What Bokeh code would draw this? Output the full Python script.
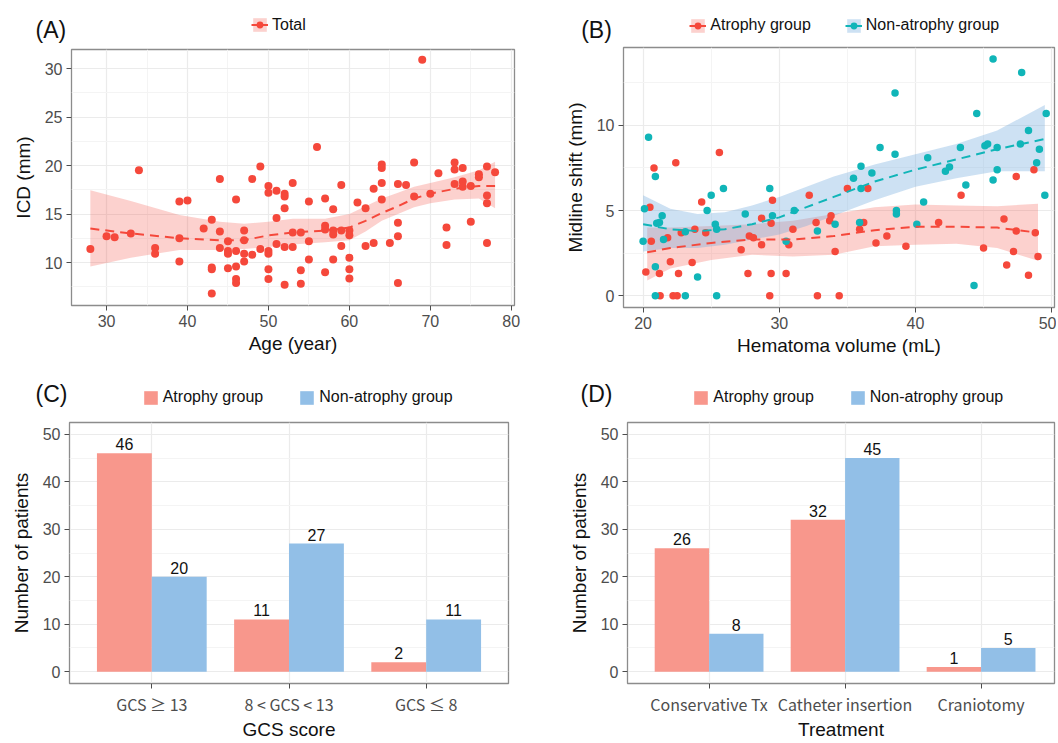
from bokeh.plotting import figure
from bokeh.layouts import row, column
from bokeh.models import (Legend, LegendItem, Label, FixedTicker, ColumnDataSource, Range1d)
from bokeh.embed import file_html
from bokeh.resources import INLINE
from bokeh.core.properties import value

# ---------------- data ----------------
# (A) Age vs ICD
age = [28, 30, 31, 33, 34, 36, 36, 39, 39, 39, 40, 42, 43, 43, 43, 43, 44, 44, 44, 45, 45, 45, 45,
       46, 46, 46, 46, 46, 47, 47, 47, 47, 48, 48, 49, 49, 50, 50, 50, 50, 50, 50, 51, 51, 51,
       52, 52, 52, 52, 52, 53, 53, 53, 54, 54, 54, 55, 55, 55, 56, 57, 57, 57, 57, 58, 58, 58, 58,
       59, 59, 59, 60, 60, 60, 60, 60, 61, 62, 62, 63, 63, 64, 64, 64, 64, 65, 66, 66, 66, 66, 67,
       68, 68, 69, 70, 71, 72, 72, 73, 73, 73, 74, 74, 74, 75, 75, 76, 76, 77, 77, 77, 77, 78]
icd = [11.4, 12.7, 12.6, 13.0, 19.5, 11.5, 10.9, 16.3, 12.5, 10.1, 16.4, 13.5, 14.4, 9.5, 9.3, 6.8,
       18.6, 13.2, 11.5, 12.2, 11.2, 10.9, 9.4, 16.5, 11.2, 9.6, 8.3, 7.9, 13.3, 12.3, 10.9, 10.1,
       18.6, 10.8, 19.9, 11.4, 17.9, 17.2, 11.2, 10.9, 9.3, 8.3, 17.4, 14.6, 11.9, 17.1, 16.8, 15.6,
       11.6, 7.7, 18.2, 13.1, 11.6, 13.1, 9.2, 7.8, 16.3, 12.2, 10.3, 21.9, 16.6, 13.8, 13.4, 9.0,
       15.5, 13.3, 12.9, 10.3, 18.0, 13.3, 11.7, 13.3, 12.8, 10.5, 9.3, 8.35, 16.2, 15.6, 11.7,
       17.6, 12.0, 20.1, 19.75, 18.2, 16.5, 12.0, 18.1, 14.1, 12.7, 7.9, 18.0, 20.3, 16.8, 30.9,
       17.1, 19.2, 13.6, 11.8, 20.3, 19.6, 18.1, 19.75, 18.35, 17.8, 17.9, 14.2, 19.1, 18.8, 19.9,
       16.9, 16.1, 12.0, 19.3]
smoothA_x = [28, 33, 39, 44, 47, 50, 53, 57, 60, 62, 64, 66, 68, 70, 73, 76, 78]
smoothA_y = [13.5, 13.0, 12.5, 12.3, 12.3, 12.8, 13.1, 13.3, 13.6, 14.3, 15.1, 15.8, 16.6, 17.1, 17.6, 17.9, 17.9]
smoothA_hi = [17.45, 16.35, 14.9, 14.2, 14.0, 14.2, 14.5, 14.5, 15.0, 15.8, 16.6, 17.2, 17.8, 18.2, 18.8, 19.5, 20.4]
smoothA_lo = [9.6, 10.5, 11.3, 11.3, 11.4, 11.6, 11.85, 12.1, 12.3, 13.2, 14.3, 15.0, 15.7, 16.1, 16.5, 16.6, 15.6]

# (B) Hematoma volume vs midline shift
atr_vol = [20.5, 20.8, 22.4, 25.6, 24.3, 29.5, 32.2, 28.7, 33.8, 20.6, 20.2, 21.2, 21.8, 22.0, 22.6,
           21.25, 22.2, 22.5, 22.8, 23.6, 23.8, 24.6, 27.2, 27.8, 28.1, 27.7, 28.7, 29.4, 29.4, 29.3,
           30.7, 30.5, 31.0, 32.7, 32.8, 33.7, 35.0, 36.5, 47.4, 48.7, 43.35, 36.2, 35.9, 41.7, 46.5,
           47.4, 48.8, 37.1, 37.9, 39.3, 34.1, 45.0, 47.2, 46.7, 49.0, 48.3, 34.4]
atr_shift = [5.2, 7.5, 7.8, 8.4, 5.5, 5.6, 5.9, 4.55, 4.7, 3.2, 1.4, 1.3, 3.4, 2.0, 1.3,
             0, 0, 0, 3.7, 1.95, 3.9, 3.7, 2.7, 3.5, 3.4, 1.3, 3.0, 4.25, 1.3, 0,
             3.0, 1.3, 3.9, 4.3, 0, 4.4, 6.3, 6.3, 7.0, 7.4, 5.9, 4.3, 3.9, 4.3, 4.5,
             3.8, 3.7, 3.1, 3.5, 2.9, 2.6, 2.8, 2.6, 1.8, 2.3, 1.2, 0]
non_vol = [20.4, 20.9, 20.1, 21.4, 24.7, 25.0, 25.9, 27.5, 29.3, 29.5, 31.1, 20.0, 20.9, 21.0, 21.2,
           21.5, 20.9, 23.1, 23.1, 24.0, 25.3, 25.4, 25.4, 30.5, 32.8, 45.7, 47.8, 38.5, 44.5, 49.6,
           48.3, 37.4, 38.5, 40.9, 43.3, 45.1, 45.3, 46.0, 47.7, 49.1, 48.9, 36.0, 35.45, 36.8, 36.0,
           42.2, 42.5, 43.7, 46.0, 45.7, 49.5, 40.6, 38.6, 38.6, 34.1, 35.9, 40.1, 44.3]
non_shift = [9.3, 7.0, 5.1, 4.7, 5.0, 5.9, 6.3, 4.8, 6.3, 4.7, 5.0, 3.2, 1.7, 4.25, 4.3,
             3.3, 0, 0, 3.75, 1.1, 4.2, 3.9, 0, 3.2, 3.8, 13.9, 13.1, 11.9, 10.7, 10.7,
             9.7, 8.7, 8.3, 8.1, 8.7, 8.8, 8.9, 8.7, 8.9, 8.6, 7.8, 7.6, 6.9, 7.2, 6.3,
             7.3, 7.55, 6.5, 7.4, 6.8, 5.9, 5.5, 5.0, 4.8, 4.2, 4.3, 4.2, 0.6]
smoothAtr_x = [20.3, 22, 25, 28, 31, 34, 37, 40, 43, 46, 49]
smoothAtr_y = [2.55, 2.8, 3.1, 3.3, 3.3, 3.5, 3.85, 4.05, 4.05, 4.0, 3.7]
smoothAtr_hi = [4.0, 4.0, 4.1, 4.2, 4.4, 4.8, 5.2, 5.35, 5.3, 5.25, 5.4]
smoothAtr_lo = [0.9, 1.6, 2.1, 2.4, 2.3, 2.4, 2.9, 3.0, 3.05, 2.8, 2.05]
smoothNon_x = [20.0, 22, 24, 26, 28, 30, 32, 34, 37, 40, 43, 46, 49.5]
smoothNon_y = [4.2, 3.9, 3.8, 3.9, 4.2, 4.6, 5.2, 5.8, 6.7, 7.4, 8.0, 8.6, 9.2]
smoothNon_hi = [5.9, 5.1, 4.8, 4.9, 5.3, 5.8, 6.4, 7.0, 7.7, 8.3, 8.9, 9.7, 11.2]
smoothNon_lo = [2.6, 2.8, 2.8, 3.0, 3.3, 3.6, 4.1, 4.7, 5.6, 6.4, 6.9, 7.3, 7.3]

# (C) GCS score
gcs_cats = ["GCS \u2265 13", "8 < GCS < 13", "GCS \u2264 8"]
gcs_atrophy = [46, 11, 2]
gcs_non = [20, 27, 11]

# (D) Treatment
tx_cats = ["Conservative Tx", "Catheter insertion", "Craniotomy"]
tx_atrophy = [26, 32, 1]
tx_non = [8, 45, 5]

# ---------------- style ----------------
RED = "#F5483B"
TEAL = "#10B5B8"
BAND_RED = "#F5483B"
BAND_BLUE = "#6FA8DC"
BAR_PINK = "#F8978C"
BAR_BLUE = "#92BFE7"
FONT = "Liberation Sans"
CAT_FONT = "Noto Sans CJK KR"
DASH = "9 6"


def no_align(p):
    if "frame_align" in p.properties():
        p.frame_align = False
    return p


def base_fig(w, h, xr, yr, left, right, top, bottom, xlabel, ylabel):
    p = figure(width=w, height=h, x_range=Range1d(*xr), y_range=Range1d(*yr),
               output_backend="svg", toolbar_location=None,
               min_border_left=left, min_border_right=right,
               min_border_top=top, min_border_bottom=bottom)
    no_align(p)
    p.background_fill_color = "white"
    p.border_fill_color = "white"
    p.outline_line_color = "#8C8C8C"
    p.outline_line_width = 1.3
    p.xaxis.axis_label = xlabel
    p.yaxis.axis_label = ylabel
    for ax in p.axis:
        ax.axis_line_color = None
        ax.major_tick_line_color = "#4D4D4D"
        ax.major_tick_out = 5
        ax.major_tick_in = 0
        ax.minor_tick_line_color = None
        ax.major_label_text_font = FONT
        ax.major_label_text_font_size = "16px"
        ax.major_label_text_color = "#4D4D4D"
        ax.major_label_standoff = 4
        ax.axis_label_text_font = FONT
        ax.axis_label_text_font_size = "19px"
        ax.axis_label_text_font_style = "normal"
        ax.axis_label_text_color = "#111111"
        ax.axis_label_standoff = 8
    p.xaxis.axis_label_standoff = 3
    for g in p.grid:
        g.grid_line_color = "#EBEBEB"
        g.grid_line_width = 1.2
        g.minor_grid_line_color = "#F4F4F4"
        g.minor_grid_line_width = 1
    return p


def header_fig(w, h, tag, tag_x, tag_y):
    # ranges far from the data so the legend proxy glyphs stay off-canvas
    hf = figure(width=w, height=h, x_range=Range1d(-1000, -999), y_range=Range1d(-1000, -999),
                output_backend="svg", toolbar_location=None, min_border=0,
                x_axis_location=None, y_axis_location=None)
    no_align(hf)
    hf.outline_line_color = None
    hf.xgrid.visible = False
    hf.ygrid.visible = False
    hf.background_fill_color = "white"
    hf.border_fill_color = "white"
    hf.add_layout(Label(x=tag_x, y=tag_y, x_units="screen", y_units="screen", text=tag,
                        text_font=FONT, text_font_size="23px", text_color="#111111",
                        text_baseline="top", text_align="left"))
    return hf


def make_legend(items, x, y, spacing):
    return Legend(items=items, orientation="horizontal", location=(x, y),
                  glyph_width=17, glyph_height=17, label_height=17, label_standoff=4,
                  spacing=spacing, padding=0, margin=0, border_line_color=None,
                  background_fill_alpha=0, label_text_font=FONT, label_text_font_size="16px",
                  label_text_color="#111111")


def smooth_key(hf, xs, ys, lo, hi, color, band_color, band_alpha):
    band = hf.varea(x=xs, y1=lo, y2=hi, fill_color=band_color, fill_alpha=band_alpha)
    ln = hf.line(x=xs, y=ys, line_color=color, line_width=2)
    pt = hf.scatter(x=xs, y=ys, size=8, fill_color=color, line_color=None)
    return [band, ln, pt]


# ---------------- (A) ----------------
hA = header_fig(545, 47, "(A)", 35, 30.5)
hA.add_layout(make_legend([LegendItem(label="Total", renderers=smooth_key(
    hA, smoothA_x, smoothA_y, smoothA_lo, smoothA_hi, RED, BAND_RED, 0.25))], 251, 13.3, 34))
pA = base_fig(545, 333, (25.67, 80.4), (5.57, 31.96), 71, 31, 2, 75, "Age (year)", "ICD (mm)")
pA.xaxis.ticker = FixedTicker(ticks=[30, 40, 50, 60, 70, 80], minor_ticks=[35, 45, 55, 65, 75])
pA.yaxis.ticker = FixedTicker(ticks=[10, 15, 20, 25, 30], minor_ticks=[7.5, 12.5, 17.5, 22.5, 27.5])
pA.varea(x=smoothA_x, y1=smoothA_lo, y2=smoothA_hi, fill_color=BAND_RED, fill_alpha=0.25)
pA.scatter(age, icd, size=8, fill_color=RED, line_color=None)
pA.line(smoothA_x, smoothA_y, line_color=RED, line_width=2, line_dash=DASH)

# ---------------- (B) ----------------
hB = header_fig(511, 45, "(B)", 35.7, 28.5)
hB.add_layout(make_legend([
    LegendItem(label="Atrophy group", renderers=smooth_key(
        hB, smoothAtr_x, smoothAtr_y, smoothAtr_lo, smoothAtr_hi, RED, BAND_RED, 0.25)),
    LegendItem(label="Non-atrophy group", renderers=smooth_key(
        hB, smoothNon_x, smoothNon_y, smoothNon_lo, smoothNon_hi, TEAL, BAND_BLUE, 0.35))],
    144.3, 11, 34))
pB = base_fig(511, 335, (18.56, 50.21), (-0.69, 14.57), 78, 2, 2, 73, "Hematoma volume (mL)", "Midline shift (mm)")
pB.xaxis.ticker = FixedTicker(ticks=[20, 30, 40, 50], minor_ticks=[25, 35, 45])
pB.yaxis.ticker = FixedTicker(ticks=[0, 5, 10], minor_ticks=[2.5, 7.5, 12.5])
pB.varea(x=smoothAtr_x, y1=smoothAtr_lo, y2=smoothAtr_hi, fill_color=BAND_RED, fill_alpha=0.25)
pB.varea(x=smoothNon_x, y1=smoothNon_lo, y2=smoothNon_hi, fill_color=BAND_BLUE, fill_alpha=0.35)
pB.scatter(atr_vol, atr_shift, size=7.5, fill_color=RED, line_color=None)
pB.scatter(non_vol, non_shift, size=7.5, fill_color=TEAL, line_color=None)
pB.line(smoothAtr_x, smoothAtr_y, line_color=RED, line_width=2, line_dash=DASH)
pB.line(smoothNon_x, smoothNon_y, line_color=TEAL, line_width=2, line_dash=DASH)


# ---------------- (C) and (D) ----------------
def bar_panel(cats, atr, non, xend, w, left, right, xlabel, tag, tag_x, leg_x):
    pos = list(range(1, len(cats) + 1))
    srcA = ColumnDataSource(dict(x=[i - 0.2 for i in pos], top=atr, lab=[str(v) for v in atr]))
    srcN = ColumnDataSource(dict(x=[i + 0.2 for i in pos], top=non, lab=[str(v) for v in non]))
    hf = header_fig(w, 40, tag, tag_x, 39.5)
    ka = hf.vbar(x="x", top="top", width=0.4, source=srcA, fill_color=BAR_PINK, line_color=None)
    kn = hf.vbar(x="x", top="top", width=0.4, source=srcN, fill_color=BAR_BLUE, line_color=None)
    hf.add_layout(make_legend([LegendItem(label="Atrophy group", renderers=[ka]),
                               LegendItem(label="Non-atrophy group", renderers=[kn])], leg_x, 14, 35))
    p = base_fig(w, 322, (0.4, xend), (-2.5, 52.5), left, right, 2, 59, xlabel, "Number of patients")
    p.xaxis.ticker = FixedTicker(ticks=pos, minor_ticks=[])
    p.xaxis.major_label_overrides = {i: c for i, c in zip(pos, cats)}
    p.xaxis.major_label_text_font = CAT_FONT
    p.xaxis.major_label_text_font_size = "16px"
    p.xaxis.major_label_standoff = 3
    p.xaxis.axis_label_standoff = 0
    p.yaxis.ticker = FixedTicker(ticks=[0, 10, 20, 30, 40, 50], minor_ticks=[5, 15, 25, 35, 45])
    p.vbar(x="x", top="top", bottom=0, width=0.4, source=srcA, fill_color=BAR_PINK, line_color=None)
    p.vbar(x="x", top="top", bottom=0, width=0.4, source=srcN, fill_color=BAR_BLUE, line_color=None)
    for s in (srcA, srcN):
        p.text(x="x", y="top", text="lab", source=s, text_align="center", text_baseline="bottom",
               y_offset=-3, text_font=value(FONT), text_font_size="16px", text_color="#111111")
    return column(hf, p)


colC = bar_panel(gcs_cats, gcs_atrophy, gcs_non, 3.6, 545, 69, 37, "GCS score", "(C)", 35, 141.7)
colD = bar_panel(tx_cats, tx_atrophy, tx_non, 3.54, 511, 82, 2, "Treatment", "(D)", 35, 147.3)

layout = column(row(column(hA, pA), column(hB, pB)), row(colC, colD))
open("out.html", "w").write(file_html(layout, INLINE))
